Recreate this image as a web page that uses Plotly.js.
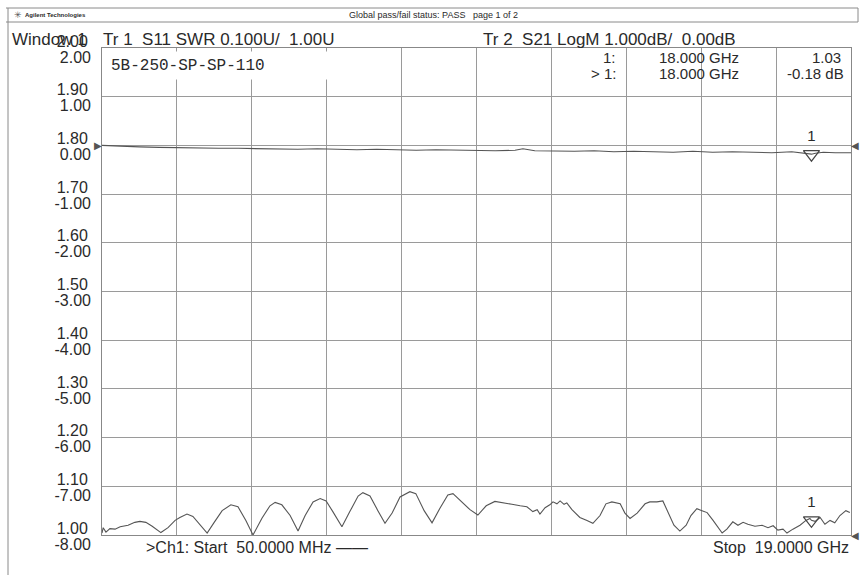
<!DOCTYPE html>
<html><head><meta charset="utf-8">
<script src="https://cdn.plot.ly/plotly-3.0.1.min.js"></script>
<style>html,body{margin:0;padding:0;background:#fff}#chart{width:861px;height:575px}</style>
</head><body><div id="chart"></div>
<script>
// ---- data ----
const swrFreqGHz = [0.05,0.08,0.15,0.25,0.38,0.51,0.71,0.88,1.01,1.16,1.32,1.54,1.72,1.90,2.02,2.20,2.35,2.53,2.71,2.88,3.09,3.31,3.49,3.69,3.87,4.10,4.30,4.43,4.60,4.81,5.01,5.19,5.39,5.57,5.72,5.89,6.12,6.32,6.53,6.65,6.83,7.03,7.21,7.39,7.59,7.84,7.99,8.20,8.40,8.60,8.80,8.93,9.11,9.23,9.36,9.56,9.77,9.99,10.25,10.42,10.63,10.80,10.95,11.06,11.13,11.26,11.38,11.46,11.56,11.64,11.74,11.81,11.94,12.14,12.32,12.47,12.65,12.80,12.95,13.08,13.16,13.28,13.41,13.59,13.79,13.91,14.09,14.24,14.37,14.52,14.67,14.83,14.95,15.10,15.23,15.36,15.51,15.63,15.74,15.86,16.01,16.14,16.27,16.39,16.57,16.75,16.90,17.03,17.15,17.28,17.38,17.53,17.71,17.86,17.96,18.00,18.09,18.22,18.34,18.47,18.59,18.72,18.87,18.97];
const swrValues  = [1.004,1.015,1.006,1.013,1.012,1.017,1.020,1.026,1.028,1.026,1.018,1.005,1.015,1.030,1.036,1.043,1.038,1.022,1.004,1.025,1.050,1.062,1.058,1.030,1.000,1.035,1.060,1.067,1.062,1.040,1.008,1.040,1.068,1.075,1.070,1.048,1.017,1.048,1.080,1.087,1.080,1.050,1.024,1.045,1.078,1.089,1.085,1.050,1.025,1.055,1.082,1.085,1.072,1.062,1.052,1.041,1.060,1.069,1.066,1.063,1.060,1.058,1.048,1.052,1.043,1.056,1.062,1.068,1.064,1.070,1.063,1.066,1.052,1.036,1.030,1.024,1.040,1.064,1.068,1.066,1.064,1.045,1.034,1.045,1.064,1.068,1.068,1.070,1.045,1.020,1.008,1.020,1.040,1.054,1.050,1.046,1.030,1.015,1.004,1.012,1.027,1.020,1.026,1.022,1.018,1.020,1.015,1.019,1.010,1.012,1.004,1.012,1.020,1.030,1.034,1.030,1.028,1.036,1.022,1.030,1.025,1.040,1.050,1.046];
const s21FreqGHz = [0.05,0.3,0.6,1.0,1.5,2.0,2.5,3.0,3.5,4.0,4.5,5.0,5.5,6.0,6.5,7.0,7.5,8.0,8.5,9.0,9.5,10.0,10.5,10.7,11.0,11.5,12.0,12.5,13.0,13.5,14.0,14.5,15.0,15.5,16.0,16.5,17.0,17.5,17.9,18.0,18.1,18.3,18.6,19.0];
const s21ValuesDb = [0.00,-0.01,-0.02,-0.03,-0.04,-0.05,-0.05,-0.06,-0.06,-0.07,-0.07,-0.08,-0.07,-0.08,-0.09,-0.08,-0.09,-0.10,-0.09,-0.10,-0.11,-0.11,-0.10,-0.07,-0.11,-0.12,-0.12,-0.11,-0.13,-0.12,-0.13,-0.14,-0.12,-0.14,-0.13,-0.14,-0.15,-0.13,-0.16,-0.18,-0.16,-0.14,-0.15,-0.15];
const swrTickVals = [2.0,1.9,1.8,1.7,1.6,1.5,1.4,1.3,1.2,1.1,1.0];
const swrTickLabels = ['2.00','1.90','1.80','1.70','1.60','1.50','1.40','1.30','1.20','1.10','1.00'];
const s21TickVals = [2,1,0,-1,-2,-3,-4,-5,-6,-7,-8];
const s21TickLabels = ['2.00','1.00','0.00','-1.00','-2.00','-3.00','-4.00','-5.00','-6.00','-7.00','-8.00'];
const startGHz = 0.05, stopGHz = 19.0, xDivisions = 10;
const swrRange = [1.0, 2.0];
const s21Range = [-8.0, 2.0];
const markerFreqGHz = [18.0];
const markerSwr = [1.03];
const markerS21 = [-0.18];
const markerLabel = ['1'];

// ---- layout helpers ----
const L = 102, R = 10, T = 48, Bm = 40, Wd = 861, Ht = 575;
const PW = Wd - L - R, PH = Ht - T - Bm;
const PX = px => (px - L) / PW;
const PY = py => (Ht - Bm - py) / PH;
const sans = 'Liberation Sans, Arial, sans-serif';
const ink = '#2a2a2a', grid = '#9a9a9a', trace = '#555555';
const nb = s => s.replace(/ /g, '\u00a0');

const xTicks = [];
for (let i = 0; i <= xDivisions; i++) xTicks.push(startGHz + i * (stopGHz - startGHz) / xDivisions);

const traces = [
  {x: swrFreqGHz, y: swrValues, yaxis: 'y', type: 'scatter', mode: 'lines',
   line: {color: trace, width: 1.1}, hoverinfo: 'skip'},
  {x: s21FreqGHz, y: s21ValuesDb, yaxis: 'y2', type: 'scatter', mode: 'lines',
   line: {color: trace, width: 1.1}, hoverinfo: 'skip'},
  {x: markerFreqGHz, y: markerSwr, yaxis: 'y', type: 'scatter', mode: 'markers+text',
   text: markerLabel, textposition: 'top center', textfont: {family: sans, size: 15, color: ink},
   marker: {symbol: 'triangle-down-open', size: 14, color: '#444', line: {width: 1.2}}, cliponaxis: false},
  {x: markerFreqGHz, y: markerS21, yaxis: 'y2', type: 'scatter', mode: 'markers+text',
   text: markerLabel, textposition: 'top center', textfont: {family: sans, size: 15, color: ink},
   marker: {symbol: 'triangle-down-open', size: 14, color: '#444', line: {width: 1.2}}, cliponaxis: false}
];

const ann = (text, px, py, xanchor, size, extra) => Object.assign({
  text: nb(text), xref: 'paper', yref: 'paper', x: PX(px), y: PY(py),
  xanchor: xanchor, yanchor: 'middle', showarrow: false,
  font: {family: sans, size: size, color: ink}
}, extra || {});

const annotations = [
  ann('✳', 12, 15, 'left', 9, {font: {family: 'DejaVu Sans', size: 9, color: '#555'}}),
  ann('<b>Agilent Technologies</b>', 23, 15, 'left', 6),
  ann('Global pass/fail status: PASS   page 1 of 2', 347, 15, 'left', 9),
  ann('Window 1', 10, 40, 'left', 17),
  ann('Tr 1  S11 SWR 0.100U/  1.00U', 101, 40, 'left', 17),
  ann('Tr 2  S21 LogM 1.000dB/  0.00dB', 481, 40, 'left', 17),
  ann('1:', 618, 58, 'right', 15),
  ann('> 1:', 618, 73, 'right', 15),
  ann('18.000 GHz', 657, 58, 'left', 15),
  ann('18.000 GHz', 657, 73, 'left', 15),
  ann('1.03', 843, 58, 'right', 15),
  ann('-0.18 dB', 846, 73, 'right', 15),
  ann('5B-250-SP-SP-110', 110, 65, 'left', 16,
      {font: {family: 'Liberation Mono, DejaVu Sans Mono, monospace', size: 16, color: ink},
       bgcolor: '#ffffff', width: 228, height: 27, align: 'left', borderpad: 0}),
  ann('>Ch1: Start  50.0000 MHz ——', 144, 547, 'left', 16),
  ann('Stop  19.0000 GHz', 851, 547, 'right', 16),
  // reference level arrows
  {text: '▶', xref: 'paper', yref: 'y2', x: 0, y: 0, xanchor: 'right', yanchor: 'middle',
   showarrow: false, font: {family: 'DejaVu Sans', size: 10, color: '#555'}, xshift: 2},
  {text: '◀', xref: 'paper', yref: 'y2', x: 1, y: 0, xanchor: 'left', yanchor: 'middle',
   showarrow: false, font: {family: 'DejaVu Sans', size: 10, color: '#555'}, xshift: -2},
  {text: '◀', xref: 'paper', yref: 'y', x: 1, y: swrRange[0], xanchor: 'left', yanchor: 'middle',
   showarrow: false, font: {family: 'DejaVu Sans', size: 10, color: '#555'}, xshift: -2}
];

const line = (x0, y0, x1, y1) => ({type: 'line', xref: 'paper', yref: 'paper',
  x0: PX(x0), y0: PY(y0), x1: PX(x1), y1: PY(y1), line: {color: '#8a8a8a', width: 1}});

const shapes = [
  line(6, 8, 858, 8),
  line(6, 22, 858, 22),
  line(8, 8, 8, 575),
  line(858, 8, 858, 22)
];

const layout = {
  width: Wd, height: Ht,
  margin: {l: L, r: R, t: T, b: Bm, pad: 0},
  paper_bgcolor: '#ffffff', plot_bgcolor: '#ffffff',
  showlegend: false,
  font: {family: sans, color: ink},
  xaxis: {range: [startGHz, stopGHz], tickvals: xTicks, showticklabels: false, ticks: '',
          showgrid: true, gridcolor: grid, gridwidth: 1, zeroline: false,
          showline: true, linecolor: '#888', linewidth: 1, mirror: true, fixedrange: true},
  yaxis: {range: swrRange, tickvals: swrTickVals, ticktext: swrTickLabels,
          tickfont: {family: sans, size: 16, color: ink}, ticks: '', ticklabelstandoff: 10,
          ticklabelshift: -7,
          showgrid: true, gridcolor: grid, gridwidth: 1, zeroline: false,
          showline: true, linecolor: '#888', linewidth: 1, mirror: true, fixedrange: true},
  yaxis2: {range: s21Range, overlaying: 'y', side: 'left', tickvals: s21TickVals, ticktext: s21TickLabels,
           tickfont: {family: sans, size: 16, color: ink}, ticks: '', ticklabelstandoff: 10,
           ticklabelshift: 9,
           showgrid: false, zeroline: false, showline: false, fixedrange: true},
  annotations: annotations,
  shapes: shapes
};

Plotly.newPlot('chart', traces, layout, {staticPlot: true, displayModeBar: false});
</script>
</body></html>
